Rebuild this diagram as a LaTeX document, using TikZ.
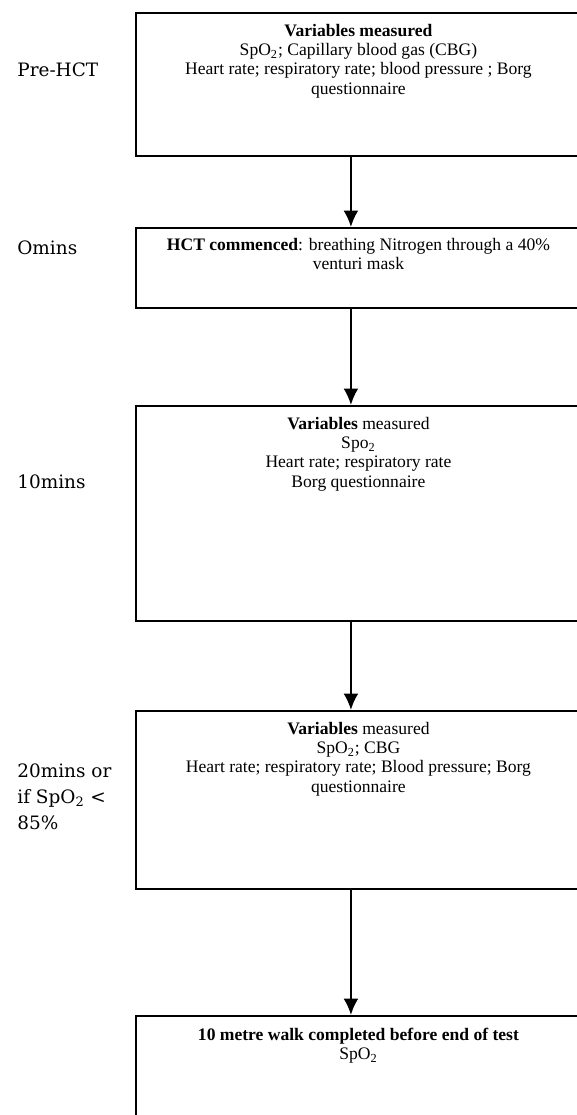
\documentclass[tikz,border=0pt]{standalone}
\usepackage{fontspec}
\setmainfont{Liberation Serif}
\newfontfamily\stagefont{DejaVu Serif}
\usepackage{tikz}
\usetikzlibrary{arrows.meta,positioning}
\tikzstyle{block}=[draw,line width=1.1pt,rectangle,minimum width=8.9cm,inner sep=0pt]
\tikzstyle{txt}=[align=center,font=\fontsize{10}{11}\selectfont,inner sep=2pt]
\tikzstyle{stage}=[align=left,font=\stagefont\fontsize{10.5}{14.7}\selectfont,inner sep=0pt]
\tikzstyle{arrow}=[draw,line width=1.2pt,-{Latex[length=3.3mm,width=3mm]}]

\begin{document}
\begin{tikzpicture}[x=0.02cm,y=-0.02cm]
    \useasboundingbox (0,0) rectangle (577,1115);
    \clip (0,0) rectangle (577,1115);
    % First we draw the boxes
    \foreach \name/\top/\h in {b1/12/2.86, b2/227/1.6, b3/405/4.3, b4/710/3.56, b5/1015/2.6}
        \node[block,minimum height=\h cm,anchor=north west] (\name) at (135,\top) {};
    % Text inside the boxes
    \node[txt,below=0.16cm of b1.north] (t1) {\textbf{Variables measured}\\
        SpO\textsubscript{2}; Capillary blood gas (CBG)\\
        Heart rate; respiratory rate; blood pressure ; Borg\\
        questionnaire};
    \node[txt,below=0.14cm of b2.north] (t2) {\textbf{HCT commenced}: breathing Nitrogen through a 40\%\\
        venturi mask};
    \node[txt,below=0.16cm of b3.north] (t3) {\textbf{Variables} measured\\
        Spo\textsubscript{2}\\
        Heart rate; respiratory rate\\
        Borg questionnaire};
    \node[txt,below=0.16cm of b4.north] (t4) {\textbf{Variables} measured\\
        SpO\textsubscript{2}; CBG\\
        Heart rate; respiratory rate; Blood pressure; Borg\\
        questionnaire};
    \node[txt,below=0.18cm of b5.north] (t5) {\textbf{10 metre walk completed before end of test}\\
        SpO\textsubscript{2}};
    % Time points on the left
    \node[stage,anchor=west] (s1) at (17,70) {Pre-HCT};
    \node[stage,anchor=west] (s2) at (17,248) {Omins};
    \node[stage,anchor=west] (s3) at (17,482) {10mins};
    \node[stage,anchor=west] (s4) at (17,797) {20mins or\\ if SpO\textsubscript{2} <\\ 85\%};
    % Connect boxes with arrows
    \foreach \source/\dest in {b1/b2, b2/b3, b3/b4, b4/b5}
        \path[arrow] ([xshift=-0.15cm]\source.south) -- ([xshift=-0.15cm]\dest.north);
\end{tikzpicture}
\end{document}
